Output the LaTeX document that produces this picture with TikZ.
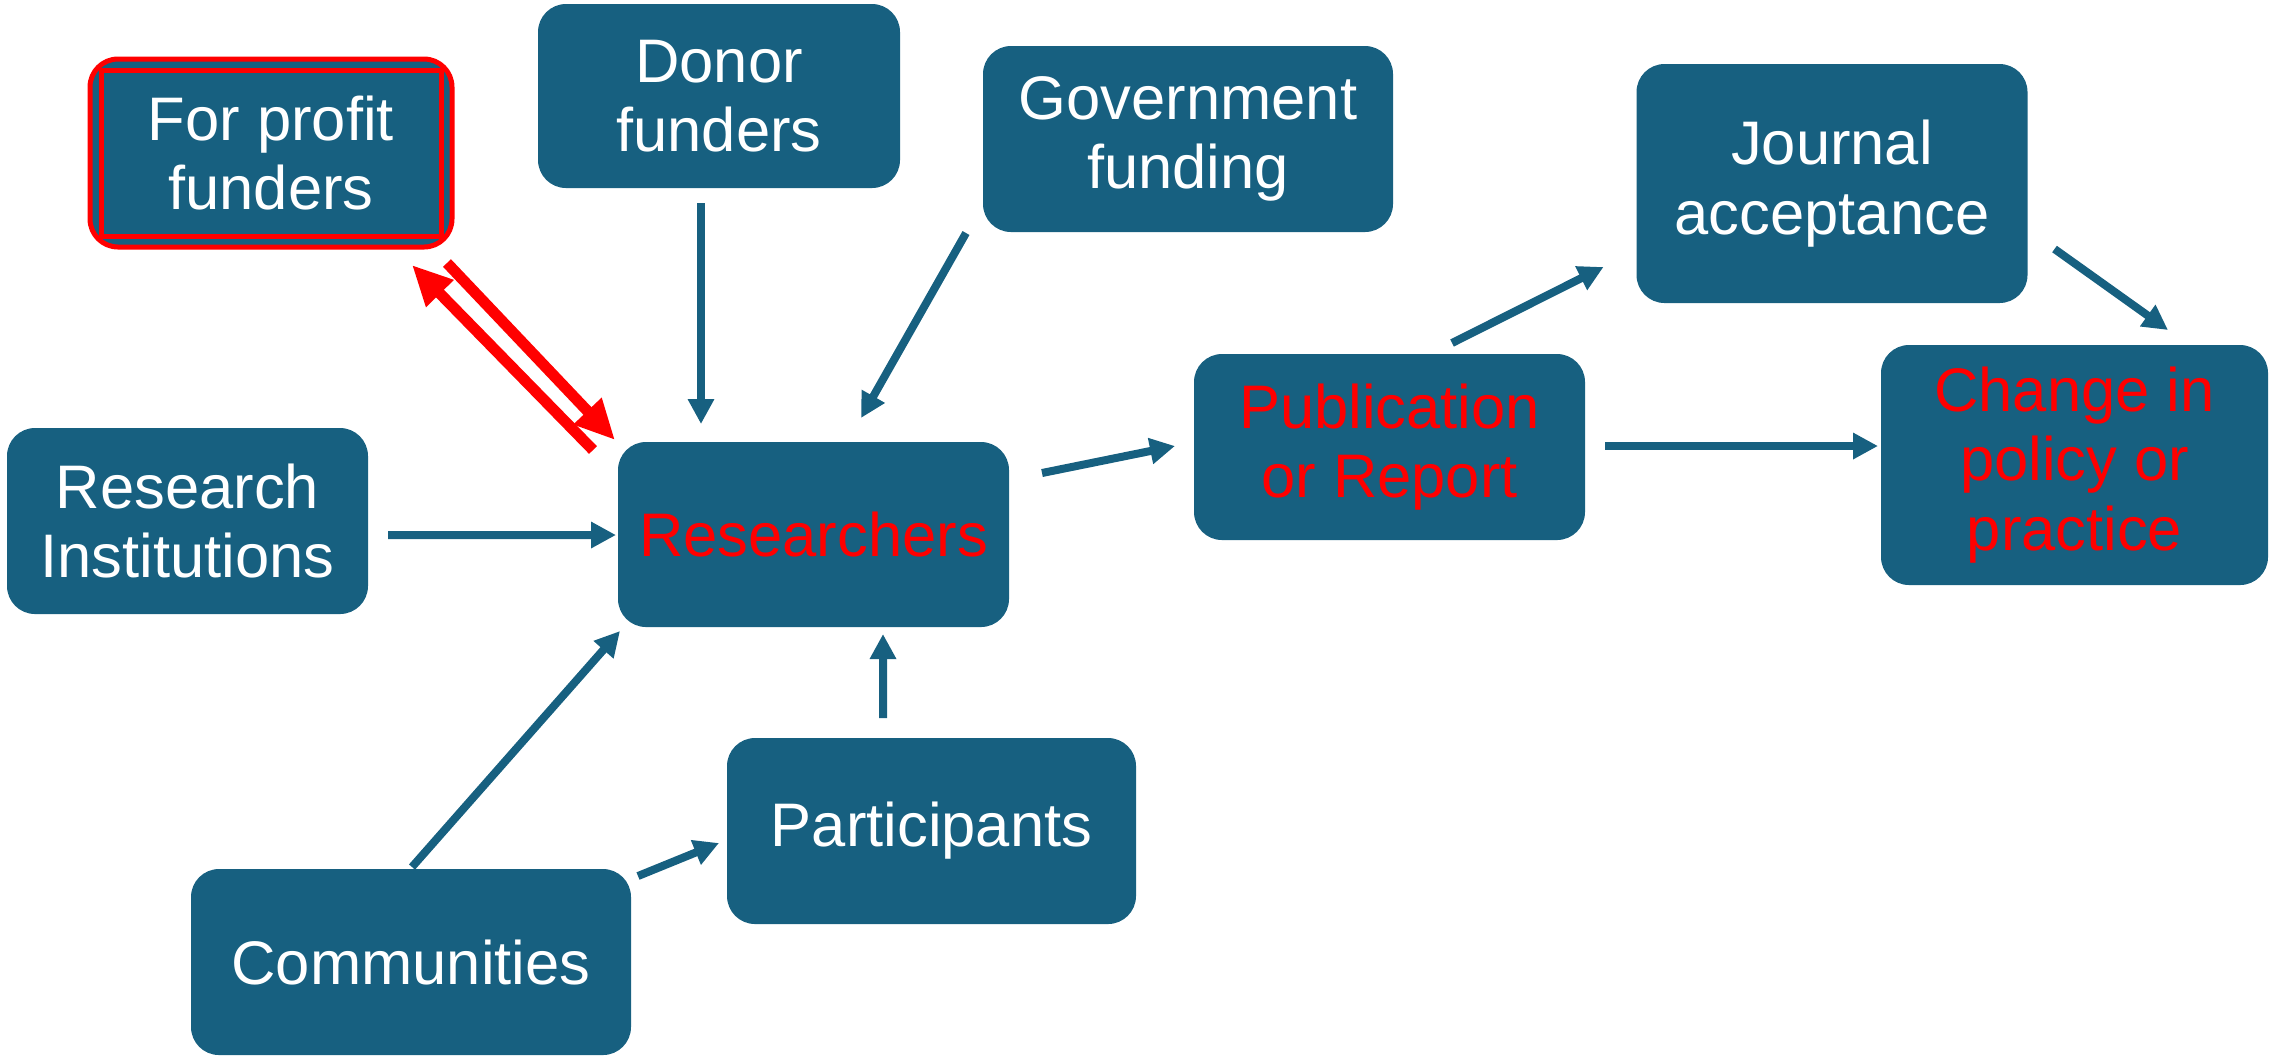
\documentclass[tikz,border=0pt]{standalone}
\usepackage{fontspec}
\setmainfont{Liberation Sans}
\usepackage{tikz}
\usetikzlibrary{arrows.meta}

\definecolor{boxblue}{RGB}{23,96,128}
\newcommand{\boxfont}{\fontsize{17.5}{19.7}\selectfont}

\tikzset{
  box/.style={fill=boxblue, rounded corners=2.8mm, inner sep=0pt, outer sep=0pt,
    text=white, align=center, font=\boxfont},
  link/.style={draw=boxblue, line width=0.8mm, -{Triangle[length=2.5mm,width=2.5mm]}},
  redlink/.style={draw=red, line width=1.1mm, -{Triangle[length=4mm,width=3.6mm]}}
}

\begin{document}
\begin{tikzpicture}[x=0.1mm,y=-0.1mm]
  \useasboundingbox (0,0) rectangle (2270,1057);

  % boxes
  \node[box, draw=red, line width=0.5mm, minimum width=36.2mm, minimum height=18.8mm]
    (fpf) at (271,153) {For profit\\funders};
  \draw[red, line width=0.5mm] ([shift={(11,11)}]fpf.north west) rectangle ([shift={(-11,-11)}]fpf.south east);
  \node[box, minimum width=36.2mm, minimum height=18.4mm] (don) at (719,96) {Donor\\funders};
  \node[box, minimum width=41mm, minimum height=18.6mm] (gov) at (1188,139) {Government\\funding};
  \node[box, minimum width=39.1mm, minimum height=23.9mm] (jou) at (1832,183.5) {Journal\\acceptance};
  \node[box, minimum width=36.1mm, minimum height=18.6mm] (rin) at (187.5,521) {Research\\Institutions};
  \node[box, text=red, minimum width=39.1mm, minimum height=18.5mm] (res) at (813.5,534.5) {Researchers};
  \node[box, text=red, minimum width=39.1mm, minimum height=18.6mm] (pub) at (1389.5,447) {Publication\\or Report};
  \node[box, text=red, minimum width=38.7mm, minimum height=24mm] (chg) at (2074.5,465) {Change in\\policy or\\practice};
  \node[box, minimum width=40.9mm, minimum height=18.6mm] (par) at (931.5,831) {Participants};
  \node[box, minimum width=44mm, minimum height=18.6mm] (com) at (411,962) {Communities};

  % funding and support into the researchers
  \draw[redlink] ([shift={(-5,16)}]fpf.south east) -- ([shift={(-3,-2)}]res.north west);
  \draw[redlink] ([shift={(-25,8)}]res.north west) -- ([shift={(-40,18)}]fpf.south east);
  \draw[link] ([shift={(-18,15)}]don.south) -- ([shift={(-112.5,-18)}]res.north);
  \draw[link] ([shift={(-17,1)}]gov.south west) -- ([shift={(47.5,-24)}]res.north);
  \draw[link] ([shift={(20,14)}]rin.east) -- ([shift={(-2,0.5)}]res.west);
  \draw[link] ([shift={(1,-2)}]com.north) -- ([shift={(2,4)}]res.south west);
  \draw[link] ([shift={(7,7)}]com.north east) -- ([shift={(-8,12)}]par.west);
  \draw[link] ([shift={(-48.5,-20)}]par.north) -- ([shift={(69.5,7)}]res.south);

  % outputs
  \draw[link] ([shift={(33,-61.5)}]res.east) -- ([shift={(-19,-1)}]pub.west);
  \draw[link] ([shift={(62.5,-11)}]pub.north) -- ([shift={(-33,-36)}]jou.south west);
  \draw[link] ([shift={(20,-1)}]pub.east) -- ([shift={(-3,-19)}]chg.west);
  \draw[link] ([shift={(27,-54)}]jou.south east) -- ([shift={(93.5,-15)}]chg.north);
\end{tikzpicture}
\end{document}
